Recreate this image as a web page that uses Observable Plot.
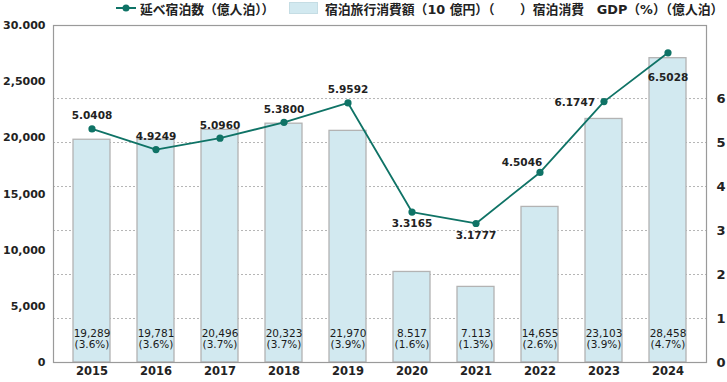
<!DOCTYPE html>
<html>
<head>
<meta charset="utf-8">
<script src="https://cdn.jsdelivr.net/npm/d3@7"></script>
<script src="https://cdn.jsdelivr.net/npm/@observablehq/plot@0.6"></script>
<style>
  html, body { margin: 0; padding: 0; background: #fff; }
  #wrap { width: 727px; height: 382px; position: relative; overflow: hidden; }
  #legend { position: relative; height: 17px; width: 727px; font-family: "DejaVu Sans", "Noto Sans CJK JP", sans-serif; font-size: 12.8px; font-weight: bold; color: #222; }
  #legend > * { position: absolute; }
  svg { display: block; }
</style>
</head>
<body>
<div id="wrap">
  <div id="legend">
    <svg style="left:116px; top:3px;" width="20" height="10"><line x1="0" y1="5" x2="20" y2="5" stroke="#0f7366" stroke-width="2"/><circle cx="10" cy="5" r="3.5" fill="#0f7366"/></svg>
    <span style="left:140px; top:1px; line-height:17px;">延べ宿泊数（億人泊））</span>
    <div style="left:289px; top:2px; width:27px; height:10px; background:#d2e9f0; border:1px solid #c5dde4;"></div>
    <span style="left:325px; top:1px; line-height:17px; white-space:pre;">宿泊旅行消費額（10 億円）（　　）宿泊消費　GDP（%）（億人泊）</span>
  </div>
  <div id="chart"></div>
</div>
<script>
// Categories
const years = ["2015","2016","2017","2018","2019","2020","2021","2022","2023","2024"];
const barHeights = [19830, 19850, 20710, 21260, 20620, 8060, 6730, 13850, 21680, 27090];
// Bar labels (travel consumption, 10 億円) and GDP share
const spendLabels = ["19,289","19,781","20,496","20,323","21,970","8.517","7.113","14,655","23,103","28,458"];
const gdpShareLabels = ["(3.6%)","(3.6%)","(3.7%)","(3.7%)","(3.9%)","(1.6%)","(1.3%)","(2.6%)","(3.9%)","(4.7%)"];
// Line: overnight stays (億人泊) — positions as drawn on right axis, and labels
const nightsDrawn = [5.31, 4.84, 5.10, 5.46, 5.90, 3.42, 3.16, 4.32, 5.93, 7.04];
const nightsLabels = ["5.0408","4.9249","5.0960","5.3800","5.9592","3.3165","3.1777","4.5046","6.1747","6.5028"];
// Axis ticks
const leftTicks = [0, 5000, 10000, 15000, 20000, 25000, 30000];
const leftTickLabels = ["0","5,000","10,000","15,000","20,000","2,5000","30.000"];
const rightTicks = [0, 1, 2, 3, 4, 5, 6];
const rightGrid = [1, 2, 3, 4, 5, 6];
const leftMax = 30000;
const rightMax = 7.66;

const k = leftMax / rightMax;
const table = years.map((year, i) => ({
  year,
  bar: barHeights[i],
  spend: spendLabels[i],
  share: gdpShareLabels[i],
  nights: nightsDrawn[i] * k,
  nightsLabel: nightsLabels[i]
}));

const teal = "#0f7366";
const above = new Set(["2015","2016","2017","2018","2019"]);
const below = new Set(["2020","2021"]);
const font = "DejaVu Sans";

const chart = Plot.plot({
  width: 727,
  height: 365,
  marginTop: 8,
  marginBottom: 20,
  marginLeft: 53,
  marginRight: 21,
  style: { fontFamily: font, background: "#fff", color: "#222" },
  x: { domain: years, paddingInner: 0.425, paddingOuter: 0.29, label: null },
  y: { domain: [0, leftMax], label: null },
  marks: [
    Plot.ruleY(rightGrid.map(v => v * k), { stroke: "#b5b5b5", strokeDasharray: "2,2", strokeWidth: 1 }),
    Plot.barY(table, { x: "year", y: "bar", fill: "#d2e9f0", stroke: "#b3b3b3", strokeWidth: 1.3 }),
    Plot.frame({ stroke: "#9a9a9a", strokeWidth: 1.2 }),
    Plot.axisX({ tickSize: 0, tickPadding: 4, fontSize: 11.5, fontWeight: "bold", fill: "#222" }),
    Plot.axisY({ anchor: "left", ticks: leftTicks, tickFormat: d => leftTickLabels[leftTicks.indexOf(d)], tickSize: 0, tickPadding: 8, fontSize: 11, fontWeight: "bold", fill: "#222", label: null }),
    Plot.axisY({ anchor: "right", ticks: rightTicks.map(v => v * k), tickFormat: d => String(rightTicks[Math.round(d / k)]), tickSize: 0, tickPadding: 10, fontSize: 13, fontWeight: "bold", fill: "#222", label: null }),
    Plot.text(table, { x: "year", y: 0, text: "spend", dy: -29, fontSize: 10.5, fill: "#1a1a1a" }),
    Plot.text(table, { x: "year", y: 0, text: "share", dy: -18, fontSize: 10.5, fill: "#1a1a1a" }),
    Plot.line(table, { x: "year", y: "nights", stroke: teal, strokeWidth: 1.8 }),
    Plot.dot(table, { x: "year", y: "nights", r: 3.6, fill: teal, stroke: "none" }),
    Plot.text(table.filter(d => above.has(d.year)), { x: "year", y: "nights", text: "nightsLabel", dy: -13, fontSize: 10.5, fontWeight: "bold", fill: "#222" }),
    Plot.text(table.filter(d => below.has(d.year)), { x: "year", y: "nights", text: "nightsLabel", dy: 12, fontSize: 10.5, fontWeight: "bold", fill: "#222" }),
    Plot.text(table.filter(d => d.year === "2022"), { x: "year", y: "nights", text: "nightsLabel", dx: -18, dy: -10, fontSize: 10.5, fontWeight: "bold", fill: "#222" }),
    Plot.text(table.filter(d => d.year === "2023"), { x: "year", y: "nights", text: "nightsLabel", dx: -9, dy: 1, textAnchor: "end", fontSize: 10.5, fontWeight: "bold", fill: "#222" }),
    Plot.text(table.filter(d => d.year === "2024"), { x: "year", y: "nights", text: "nightsLabel", dy: 25, fontSize: 10.5, fontWeight: "bold", fill: "#222" })
  ]
});
document.getElementById("chart").appendChild(chart);
</script>
</body>
</html>
